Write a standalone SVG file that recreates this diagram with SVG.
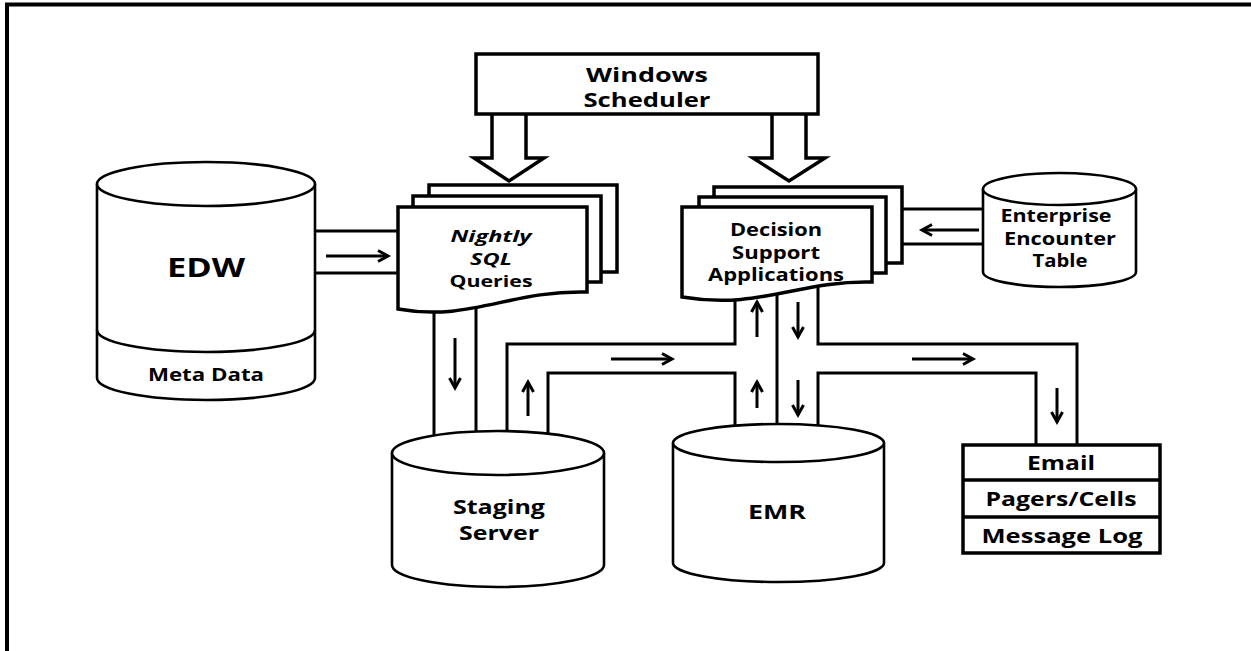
<svg xmlns="http://www.w3.org/2000/svg" width="1251" height="651" viewBox="0 0 1251 651">
<style>
  .t { font-family: "Open Sans", "Liberation Sans", sans-serif; font-weight: 700; text-anchor: middle; fill: #000; }
  .it { font-style: italic; }
  .box { fill: #fff; stroke: #000; stroke-width: 3.5; stroke-linejoin: miter; }
  .cyl { fill: #fff; stroke: #000; stroke-width: 2.6; }
  .pipe { fill: none; stroke: #000; stroke-width: 3; stroke-linejoin: miter; }
  .arr { fill: none; stroke: #000; stroke-width: 3; marker-end: url(#ah); }
  .hollow { fill: #fff; stroke: #000; stroke-width: 3.5; stroke-linejoin: miter; }
</style>
<defs>
  <marker id="ah" markerUnits="userSpaceOnUse" markerWidth="16" markerHeight="16" refX="12" refY="8" orient="auto">
    <path d="M2,2.5 L12,8 L2,13.5" fill="none" stroke="#000" stroke-width="3"/>
  </marker>
</defs>
<rect x="0" y="0" width="1251" height="651" fill="#fff"/>
<path id="frame" d="M7,651 V4.5 H1251" fill="none" stroke="#000" stroke-width="4"/>

<g id="connectors">
  <!-- EDW to Nightly -->
  <path class="pipe" d="M315,231 H399 M315,273 H399"/>
  <path class="arr" d="M326,256 H388"/>
  <!-- Nightly to Staging -->
  <path class="pipe" d="M434,300 V445 M476,300 V445"/>
  <path class="arr" d="M455,338 V388"/>
  <!-- Staging to Decision / EMR pipe -->
  <path class="pipe" d="M507,445 V344 H735 V292"/>
  <path class="pipe" d="M548,445 V373 H735 V440"/>
  <path class="arr" d="M528,416 V382"/>
  <path class="arr" d="M611,359 H672"/>
  <path class="arr" d="M757,337 V302"/>
  <path class="arr" d="M757,408 V382"/>
  <!-- middle divider -->
  <path class="pipe" d="M777,292 V440"/>
  <!-- Decision to EMR / Email -->
  <path class="pipe" d="M818,280 V344 H1077 V447"/>
  <path class="pipe" d="M818,440 V373 H1036 V447"/>
  <path class="arr" d="M798,302 V337"/>
  <path class="arr" d="M798,380 V415"/>
  <path class="arr" d="M912,359 H973"/>
  <path class="arr" d="M1057,388 V422"/>
  <!-- Encounter to Decision -->
  <path class="pipe" d="M901,209 H984 M901,244 H984"/>
  <path class="arr" d="M979,230 H922"/>
  <!-- Scheduler hollow arrows -->
  <path class="hollow" d="M492,114 V158 H474 L509,181 L544,158 H526 V114"/>
  <path class="hollow" d="M772,114 V158 H753 L789,181 L825,158 H806 V114"/>
</g>

<g id="scheduler">
  <rect class="box" x="476" y="54" width="342" height="60"/>
  <text class="t" x="647" y="82" font-size="20" textLength="122" lengthAdjust="spacingAndGlyphs">Windows</text>
  <text class="t" x="647" y="107" font-size="20" textLength="127" lengthAdjust="spacingAndGlyphs">Scheduler</text>
</g>

<g id="edw">
  <path class="cyl" d="M97,184 V378 A109,22 0 0 0 315,378 V184"/>
  <ellipse class="cyl" cx="206" cy="184" rx="109" ry="22"/>
  <path class="cyl" d="M97,330 A109,22 0 0 0 315,330" style="fill:none"/>
  <text class="t" x="206" y="277" font-size="26" textLength="78" lengthAdjust="spacingAndGlyphs">EDW</text>
  <text class="t" x="206" y="381" font-size="18" textLength="116" lengthAdjust="spacingAndGlyphs">Meta Data</text>
</g>

<g id="nightly">
  <rect class="box" x="429" y="185" width="188" height="87"/>
  <rect class="box" x="413" y="196" width="188" height="86"/>
  <path class="box" d="M398,309 V207 H587 V292 C510,290 470,322 398,309 Z"/>
  <text class="t it" x="491" y="242" font-size="16.5" textLength="81" lengthAdjust="spacingAndGlyphs">Nightly</text>
  <text class="t it" x="491" y="265" font-size="16.5" textLength="42" lengthAdjust="spacingAndGlyphs">SQL</text>
  <text class="t" x="491" y="287" font-size="16.5" textLength="83" lengthAdjust="spacingAndGlyphs">Queries</text>
</g>

<g id="decision">
  <rect class="box" x="714" y="187" width="188" height="76"/>
  <rect class="box" x="699" y="197" width="187" height="76"/>
  <path class="box" d="M682,297 V207 H872 V282 C800,280 760,310 682,297 Z"/>
  <text class="t" x="776" y="236" font-size="17.5" textLength="92" lengthAdjust="spacingAndGlyphs">Decision</text>
  <text class="t" x="776" y="259" font-size="17.5" textLength="88" lengthAdjust="spacingAndGlyphs">Support</text>
  <text class="t" x="776" y="281" font-size="17.5" textLength="136" lengthAdjust="spacingAndGlyphs">Applications</text>
</g>

<g id="encounter">
  <path class="cyl" d="M983,189 V272 A76.5,15 0 0 0 1136,272 V189"/>
  <ellipse class="cyl" cx="1059.5" cy="189" rx="76.5" ry="16"/>
  <text class="t" x="1056" y="222" font-size="17.5" textLength="111" lengthAdjust="spacingAndGlyphs">Enterprise</text>
  <text class="t" x="1060" y="245" font-size="17.5" textLength="112" lengthAdjust="spacingAndGlyphs">Encounter</text>
  <text class="t" x="1060" y="267" font-size="17.5" textLength="55" lengthAdjust="spacingAndGlyphs">Table</text>
</g>

<g id="staging">
  <path class="cyl" d="M392,453 V565 A106,22 0 0 0 604,565 V453"/>
  <ellipse class="cyl" cx="498" cy="453" rx="106" ry="22"/>
  <text class="t" x="499" y="514" font-size="19" textLength="92" lengthAdjust="spacingAndGlyphs">Staging</text>
  <text class="t" x="499" y="540" font-size="19" textLength="80" lengthAdjust="spacingAndGlyphs">Server</text>
</g>

<g id="emr">
  <path class="cyl" d="M673,443 V563 A105.5,19 0 0 0 884,563 V443"/>
  <ellipse class="cyl" cx="778.5" cy="443" rx="105.5" ry="19"/>
  <text class="t" x="777" y="519" font-size="20" textLength="58" lengthAdjust="spacingAndGlyphs">EMR</text>
</g>

<g id="notify">
  <rect class="box" x="963" y="445" width="197" height="108"/>
  <path class="box" d="M963,480 H1160 M963,517 H1160"/>
  <text class="t" x="1061" y="470" font-size="19" textLength="68" lengthAdjust="spacingAndGlyphs">Email</text>
  <text class="t" x="1061" y="506" font-size="19" textLength="151" lengthAdjust="spacingAndGlyphs">Pagers/Cells</text>
  <text class="t" x="1062" y="543" font-size="19" textLength="161" lengthAdjust="spacingAndGlyphs">Message Log</text>
</g>
</svg>
